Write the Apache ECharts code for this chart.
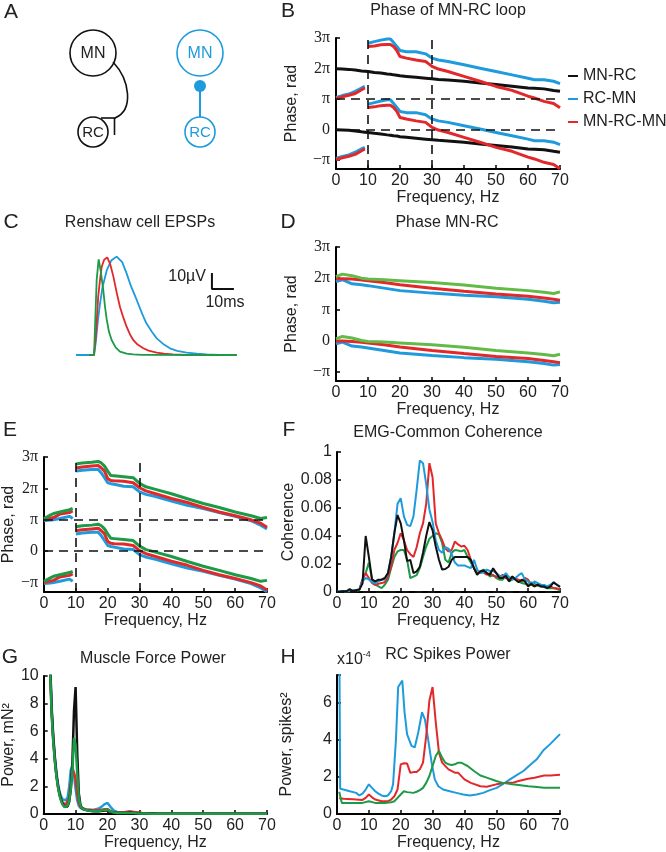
<!DOCTYPE html>
<html>
<head>
<meta charset="utf-8">
<script src="https://cdn.jsdelivr.net/npm/echarts@6/dist/echarts.min.js"></script>
<style>html,body{margin:0;padding:0;background:#fff}#c{width:666px;height:852px}</style>
</head>
<body>
<div id="c"></div>
<script>
// ---------- Panel B: Phase of MN-RC loop (units of pi) ----------
const fB = [0,2,4,6,8,9,9.5,10,12,14,16,17,18,19,20,22,25,28,29,30,32,35,40,45,50,55,60,62,65,68,70];
const phB_MNRC = [1.99,1.98,1.97,1.95,1.92,1.91,1.905,1.90,1.87,1.85,1.82,1.81,1.79,1.78,1.76,1.74,1.71,1.68,1.67,1.66,1.64,1.62,1.58,1.52,1.47,1.42,1.36,1.35,1.33,1.28,1.25];
const phB_RCMN = [1.05,1.11,1.16,1.25,1.36,1.41,null,2.83,2.88,2.93,2.97,2.97,2.85,2.72,2.59,2.55,2.55,2.48,2.41,2.34,2.28,2.23,2.12,2.01,1.90,1.79,1.68,1.63,1.63,1.58,1.50];
const phB_MNRCMN = [1.01,1.07,1.12,1.18,1.30,1.36,null,2.72,2.74,2.78,2.79,2.79,2.72,2.59,2.39,2.34,2.28,2.23,2.15,2.07,1.98,1.90,1.74,1.58,1.41,1.28,1.09,1.03,0.92,0.85,0.71];
const legendB = ['MN-RC','RC-MN','MN-RC-MN'];

// ---------- Panel C: Renshaw cell EPSPs [ms, uV] ----------
const epspBlue = [[0,0],[8.2,0],[9,8],[10,22],[10.9,32],[12,42],[14,53],[16,59],[18.5,61.5],[21,58],[23,51],[25,43],[27.6,34.4],[30,26],[32,19.8],[34.5,14.5],[36.7,10.4],[40,6.5],[42.7,4.2],[46,2.6],[50.3,1.5],[55,0.8],[59.4,0.4],[65,0.1],[73,0]];
const epspRed = [[6,0],[8.2,0],[9,12],[10.1,36.5],[11,48],[11.7,55.2],[12.8,59.5],[14.2,61],[15.5,57],[17,49],[18.5,39],[20,30],[21.5,23.5],[23,17.7],[24.5,13],[26,9.4],[28,6.5],[30.6,4.2],[33,2.7],[36.7,1.5],[40,0.8],[44,0.4],[50,0.1],[73,0]];
const epspGreen = [[6,0],[8.2,0],[8.6,15.6],[9.4,46.9],[10.3,59.8],[11.3,52],[12.4,40.6],[13.2,30],[14,21.9],[15,14.5],[16.2,9.4],[18,4.8],[20,2.1],[23,0.8],[26,0.4],[30,0.1],[73,0]];
const scaleBarC = [[61.8,51.25],[61.8,41.25],[71.8,41.25]]; // 10 uV / 10 ms

// ---------- Panel D: Phase MN-RC ----------
const fD = [0,2,5,8,10,15,20,30,40,50,60,65,68,70];
const phD_green = [2.05,2.13,2.08,2.00,1.97,1.95,1.92,1.86,1.78,1.68,1.60,1.55,1.51,1.56];
const phD_red = [1.98,1.98,1.97,1.94,1.92,1.86,1.79,1.68,1.58,1.49,1.42,1.36,1.32,1.29];
const phD_blue = [1.89,1.95,1.82,1.79,1.76,1.68,1.60,1.52,1.45,1.40,1.32,1.26,1.21,1.23];

// ---------- Panel E ----------
const fE = [0,2,3,5,8,9,9.5,10,12,15,17,18,19,20,21,22,25,28,30,32,35,40,45,50,55,60,65,68,70];
const phE_green = [1.04,1.15,1.20,1.25,1.32,1.36,null,2.78,2.81,2.83,2.86,2.81,2.71,2.55,2.41,2.40,2.37,2.34,2.16,2.05,1.97,1.83,1.67,1.52,1.39,1.25,1.13,1.04,1.07];
const phE_red = [1.00,1.05,1.07,1.18,1.23,1.28,null,2.65,2.68,2.71,2.73,2.65,2.55,2.31,2.25,2.24,2.23,2.18,2.02,1.92,1.83,1.68,1.55,1.39,1.25,1.13,1.00,0.89,0.76];
const phE_blue = [0.97,0.99,1.00,1.04,1.11,1.04,null,2.55,2.58,2.60,2.60,2.49,2.34,2.18,2.15,2.13,2.07,2.05,1.89,1.81,1.74,1.60,1.46,1.36,1.23,1.11,0.97,0.83,0.71];

// ---------- Panel F: EMG-Common Coherence ----------
const fF = [0,1,2,3,4,5,6,7,8,9,10,11,12,13,14,15,16,17,18,19,20,21,22,23,24,25,26,27,28,29,30,31,32,33,34,35,36,37,38,39,40,41,42,43,44,45,46,47,48,49,50,51,52,53,54,55,56,57,58,59,60,61,62,63,64,65,66,67,68,69,70];
const cohBlue = [0.0005,0.0005,0.0005,0.0008,0.001,0.0012,0.0015,0.0017,0.0076,0.010,0.009,0.007,0.0064,0.0076,0.0088,0.009,0.0135,0.025,0.042,0.063,0.067,0.054,0.048,0.047,0.054,0.073,0.094,0.092,0.077,0.059,0.050,0.037,0.030,0.028,0.032,0.031,0.027,0.021,0.019,0.019,0.019,0.018,0.017,0.023,0.016,0.0135,0.014,0.016,0.015,0.015,0.0135,0.0116,0.011,0.0135,0.0107,0.0088,0.010,0.012,0.0135,0.0088,0.0076,0.0052,0.0076,0.0064,0.0052,0.005,0.004,0.0052,0.0069,0.0052,0.004];
const cohRed = [0.0002,0.0003,0.0005,0.0008,0.001,0.0012,0.0015,0.0017,0.0088,0.0135,0.010,0.0064,0.005,0.0059,0.0064,0.0069,0.0111,0.018,0.030,0.035,0.042,0.037,0.030,0.027,0.025,0.032,0.042,0.049,0.063,0.092,0.082,0.049,0.042,0.037,0.031,0.029,0.030,0.036,0.034,0.0325,0.033,0.030,0.023,0.017,0.013,0.0147,0.014,0.0123,0.0135,0.0116,0.0111,0.0107,0.0123,0.010,0.0088,0.0111,0.0093,0.0088,0.0076,0.010,0.0088,0.0052,0.004,0.0052,0.005,0.004,0.0036,0.004,0.0028,0.0026,0.0021];
const cohGreen = [0.0002,0.0002,0.0003,0.0004,0.0005,0.0005,0.0008,0.0012,0.0088,0.0135,0.021,0.0088,0.0052,0.004,0.0028,0.0052,0.0088,0.0171,0.025,0.029,0.030,0.030,0.023,0.010,0.011,0.012,0.017,0.025,0.0325,0.038,0.040,0.042,0.041,0.035,0.023,0.021,0.028,0.030,0.0296,0.029,0.030,0.025,0.021,0.017,0.0135,0.0147,0.016,0.014,0.011,0.0123,0.010,0.0088,0.0088,0.0116,0.0076,0.0088,0.010,0.0076,0.0064,0.0059,0.0052,0.0069,0.0059,0.0045,0.004,0.0036,0.0026,0.0028,0.0026,0.0021,0.0012];
const cohBlack = [0.0002,0.0003,0.0005,0.0005,0.0021,0.0005,0.0012,0.0017,0.006,0.040,0.025,0.009,0.0076,0.0088,0.0088,0.010,0.0135,0.025,0.042,0.055,0.049,0.037,0.022,0.023,0.0135,0.0147,0.018,0.028,0.040,0.050,0.044,0.0325,0.023,0.016,0.0164,0.018,0.023,0.025,0.025,0.025,0.025,0.025,0.023,0.017,0.0123,0.0147,0.0154,0.0135,0.0123,0.017,0.0135,0.010,0.010,0.0116,0.0076,0.0111,0.0088,0.0069,0.0088,0.0076,0.004,0.0059,0.004,0.0052,0.004,0.004,0.0028,0.004,0.0069,0.0052,0.0036];
const cohSig = 0.0008;

// ---------- Panel G: Muscle Force Power (mN^2) ----------
const fG = [1,1.5,2,2.5,3,3.5,4,4.5,5,5.5,6,6.5,7,7.5,8,8.5,9,9.5,10,10.5,11,11.5,12,13,14,15,16,17,18,19,20,21,22,23,24,25,26,27,28,29,30,31,32,34,36,40,45,50,55,60,65,70];
const powGBlack = [30,18,11,7.5,5.5,4,2.8,2,1.4,1.0,0.7,0.55,0.5,0.55,0.9,1.8,3.8,7.5,9.2,4.5,1.5,0.7,0.4,0.3,0.25,0.22,0.2,0.2,0.22,0.25,0.25,0.15,0.1,0.08,0.07,0.07,0.08,0.1,0.08,0.06,0.05,0.04,0.03,0.03,0.02,0.02,0.02,0.01,0.01,0.01,0.01,0.01];
const powGGreen = [28,17,10.5,7.2,5.2,3.8,2.7,1.9,1.3,0.9,0.65,0.5,0.5,0.6,1.0,1.8,3.2,5.5,5.0,3.0,1.2,0.6,0.4,0.3,0.25,0.22,0.2,0.2,0.25,0.3,0.3,0.18,0.1,0.08,0.07,0.07,0.08,0.08,0.07,0.05,0.04,0.03,0.03,0.02,0.02,0.02,0.01,0.01,0.01,0.01,0.01,0.01];
const powGRed = [28,17,10.5,7.3,5.3,3.9,2.8,2.0,1.4,1.0,0.8,0.7,0.7,0.8,1.2,2.2,3.2,3.0,2.5,1.5,0.8,0.5,0.4,0.35,0.3,0.28,0.27,0.28,0.3,0.35,0.35,0.2,0.12,0.1,0.1,0.11,0.15,0.18,0.15,0.12,0.1,0.05,0.04,0.03,0.02,0.02,0.01,0.01,0.01,0.01,0.01,0.01];
const powGBlue = [30,18,11,7.8,5.7,4.2,3.0,2.2,1.6,1.25,1.05,1.0,1.0,1.2,2.0,3.2,3.5,2.8,1.8,1.0,0.6,0.45,0.35,0.3,0.3,0.3,0.32,0.38,0.5,0.7,0.8,0.5,0.25,0.15,0.12,0.12,0.15,0.17,0.15,0.1,0.08,0.05,0.04,0.03,0.02,0.02,0.02,0.01,0.01,0.01,0.01,0.01];

// ---------- Panel H: RC Spikes Power (x1e-4 spikes^2) ----------
const fHBlue = [0.7,1,2,4,6,7,8,9,10,11,12,13,14,15,16,17,17.6,18.5,19.2,20.5,21.2,22,23.4,24.4,25.5,26.7,27.6,28.6,29.7,30.7,31.8,33.3,35.4,37.5,39.6,41.7,43.8,45.9,48,50.1,52.2,54.3,56.4,58.5,60.6,62.7,64.8,66.9,70];
const powHBlue = [10,1.36,1.32,1.23,1.14,1.0,1.1,1.32,1.6,1.41,1.23,1.1,1.0,0.96,1.0,1.23,1.6,4.0,6.85,7.2,5.5,4.3,3.68,3.59,4.4,5.49,5.1,4.04,2.77,1.87,1.5,1.32,1.23,1.14,1.05,1.0,1.05,1.14,1.29,1.41,1.63,1.87,2.1,2.32,2.64,2.95,3.44,3.77,4.31];
const fHRed = [0.7,2,5,8,9,10,11,12,14,16,17,18,19,20,21,22,23,24,25,26,27,28,29,30,31,32,33,35,37,38,40,42,45,47,50,53,55,57,60,62,65,67,70];
const powHRed = [0.85,0.82,0.8,0.76,0.87,1.05,0.9,0.78,0.69,0.69,0.78,0.96,1.32,2.68,2.74,2.72,2.23,2.26,2.26,2.41,2.77,4.22,6.12,6.85,4.95,3.32,2.77,2.41,2.23,2.23,1.87,1.68,1.5,1.47,1.6,1.68,1.68,1.78,1.9,1.96,2.08,2.08,2.12];
const fHGreen = [0.7,1.5,5,8,10,12,15,17,18,19,20,21,22,24,25,26,27,28,29,30,31,32,33,34,35,36,37,38,39,40,41,43,45,47,50,52,55,57,60,62,65,67,70];
const powHGreen = [1.2,0.6,0.6,0.6,0.69,0.6,0.6,0.63,0.69,0.87,1.05,1.23,1.18,1.14,1.2,1.29,1.41,1.68,2.05,2.59,3.13,3.41,3.04,2.77,2.68,2.64,2.68,2.77,2.77,2.68,2.59,2.32,2.08,1.96,1.78,1.68,1.6,1.56,1.5,1.47,1.41,1.41,1.41];

// ---------- tick labels ----------
const piTicks = [-1,0,1,2,3];
const piLabels = ['\u2212\u03c0','0','\u03c0','2\u03c0','3\u03c0'];

// ---------- styling ----------
const BLUE = '#1e9bdc', RED = '#e2282a', GREEN = '#1c9a45', LGREEN = '#62bb47', BLACK = '#111111';
const SANS = 'Liberation Sans, Arial, sans-serif';
const SERIF = 'Liberation Serif, Times New Roman, serif';

function zip(xs, ys, shift) {
  return xs.map((x, i) => [x, ys[i] == null ? null : ys[i] + (shift || 0)]);
}
function xAxisCfg(gi) {
  return {
    gridIndex: gi, type: 'value', min: 0, max: 70, interval: 10,
    axisLine: {onZero: false, lineStyle: {color: '#000', width: 2}},
    axisTick: {inside: true, length: 4, lineStyle: {color: '#000', width: 1.5}},
    axisLabel: {color: '#222', fontSize: 16, fontFamily: SANS, margin: 4},
    splitLine: {show: false},
    name: 'Frequency, Hz', nameLocation: 'middle', nameGap: 21,
    nameTextStyle: {color: '#222', fontSize: 16, fontFamily: SANS}
  };
}
function phaseY(gi, nameGap) {
  return {
    gridIndex: gi, type: 'value', min: -1.3, max: 3,
    axisLine: {show: true, onZero: false, lineStyle: {color: '#000', width: 2}},
    axisTick: {show: true, inside: true, length: 4, customValues: piTicks, lineStyle: {color: '#000', width: 1.5}},
    axisLabel: {show: true, customValues: piTicks, color: '#222', fontSize: 16, fontFamily: SERIF, margin: 6,
      formatter: v => piLabels[piTicks.indexOf(Math.round(v))]},
    splitLine: {show: false},
    name: 'Phase, rad', nameLocation: 'middle', nameGap: nameGap, nameRotate: 90,
    nameTextStyle: {color: '#222', fontSize: 16, fontFamily: SANS}
  };
}
function valY(gi, min, max, interval, nameText, nameGap, fmt) {
  return {
    gridIndex: gi, type: 'value', min: min, max: max, interval: interval,
    axisLine: {show: true, onZero: false, lineStyle: {color: '#000', width: 2}},
    axisTick: {show: true, inside: true, length: 4, lineStyle: {color: '#000', width: 1.5}},
    axisLabel: {show: true, color: '#222', fontSize: 16, fontFamily: SANS, margin: 5, showMaxLabel: true, formatter: fmt},
    splitLine: {show: false},
    name: nameText, nameLocation: 'middle', nameGap: nameGap, nameRotate: 90,
    nameTextStyle: {color: '#222', fontSize: 16, fontFamily: SANS}
  };
}
function line(name, gi, data, color, width, z) {
  return {name: name, type: 'line', xAxisIndex: gi, yAxisIndex: gi, data: data,
    showSymbol: false, symbol: 'none', connectNulls: false, smooth: false, animation: false,
    lineStyle: {color: color, width: width}, itemStyle: {color: color}, z: z || 2, clip: true};
}
function dashLines(gi, xs, ys) {
  const d = [];
  xs.forEach(x => d.push({xAxis: x}));
  ys.forEach(y => d.push({yAxis: y}));
  return {type: 'line', xAxisIndex: gi, yAxisIndex: gi, data: [], silent: true,
    markLine: {silent: true, symbol: 'none', animation: false, label: {show: false},
      lineStyle: {color: '#111', type: [9, 6], width: 1.6}, data: d}};
}

const series = [];
// B (grid 0)
series.push(dashLines(0, [10, 30], [1, 0]));
series.push(line('MN-RC', 0, zip(fB, phB_MNRC), BLACK, 3));
series.push(line('MN-RC', 0, zip(fB, phB_MNRC, -2), BLACK, 3));
series.push(line('RC-MN', 0, zip(fB, phB_RCMN), BLUE, 3));
series.push(line('RC-MN', 0, zip(fB, phB_RCMN, -2), BLUE, 3));
series.push(line('MN-RC-MN', 0, zip(fB, phB_MNRCMN), RED, 3));
series.push(line('MN-RC-MN', 0, zip(fB, phB_MNRCMN, -2), RED, 3));
// C (grid 1)
series.push(line('epspB', 1, epspBlue, BLUE, 1.8));
series.push(line('epspR', 1, epspRed, RED, 1.8));
series.push(line('epspG', 1, epspGreen, GREEN, 1.8));
series.push(line('scale', 1, scaleBarC, '#111', 2));
// D (grid 2)
[[phD_blue, BLUE], [phD_red, RED], [phD_green, LGREEN]].forEach(p => {
  series.push(line('D', 2, zip(fD, p[0]), p[1], 3));
  series.push(line('D', 2, zip(fD, p[0], -2), p[1], 3));
});
// E (grid 3)
series.push(dashLines(3, [10, 30], [1, 0]));
[[phE_blue, BLUE], [phE_red, RED], [phE_green, GREEN]].forEach(p => {
  series.push(line('E', 3, zip(fE, p[0]), p[1], 3));
  series.push(line('E', 3, zip(fE, p[0], -2), p[1], 3));
});
// F (grid 4)
series.push({type: 'line', xAxisIndex: 4, yAxisIndex: 4, data: [], silent: true,
  markLine: {silent: true, symbol: 'none', animation: false, label: {show: false},
    lineStyle: {color: '#111', type: [7, 6], width: 2}, data: [{yAxis: cohSig}]}});
series.push(line('F', 4, zip(fF, cohGreen), GREEN, 2));
series.push(line('F', 4, zip(fF, cohRed), RED, 2));
series.push(line('F', 4, zip(fF, cohBlue), BLUE, 2));
series.push(line('F', 4, zip(fF, cohBlack), BLACK, 2));
// G (grid 5)
series.push(line('G', 5, zip(fG, powGBlue), BLUE, 2.5));
series.push(line('G', 5, zip(fG, powGRed), RED, 2.5));
series.push(line('G', 5, zip(fG, powGBlack), BLACK, 2.5));
series.push(line('G', 5, zip(fG, powGGreen), GREEN, 2.5));
// H (grid 6)
series.push(line('H', 6, zip(fHBlue, powHBlue), BLUE, 2));
series.push(line('H', 6, zip(fHRed, powHRed), RED, 2));
series.push(line('H', 6, zip(fHGreen, powHGreen), GREEN, 2));

function txt(x, y, s, size, color, family, align) {
  return {type: 'text', x: x, y: y, silent: true,
    style: {text: s, fontSize: size, fontFamily: family || SANS, fill: color || '#222',
      align: align || 'center', verticalAlign: 'middle'}};
}
const graphics = [
  // panel letters
  txt(11, 12, 'A', 21), txt(288, 11, 'B', 21), txt(11, 222, 'C', 21), txt(288, 222, 'D', 21),
  txt(10, 430, 'E', 21), txt(289, 430, 'F', 21), txt(10, 657, 'G', 21), txt(288, 657, 'H', 21),
  // titles
  txt(448, 11, 'Phase of MN-RC loop', 16), txt(140, 223, 'Renshaw cell EPSPs', 16),
  txt(447, 223, 'Phase MN-RC', 16), txt(448, 433, 'EMG-Common Coherence', 16),
  txt(153, 659, 'Muscle Force Power', 16), txt(448, 655, 'RC Spikes Power', 16),
  // scale bar labels
  txt(206, 277, '10\u00b5V', 16, '#222', SANS, 'right'), txt(225, 303, '10ms', 16),
  // x10^-4
  {type: 'text', x: 337, y: 660, silent: true,
    style: {text: 'x10{s|-4}', fontSize: 16, fontFamily: SANS, fill: '#222', align: 'left', verticalAlign: 'middle',
      rich: {s: {fontSize: 9, fontFamily: SANS, fill: '#222', verticalAlign: 'top', padding: [0, 0, 10, 0]}}}},
  // panel A diagram
  {type: 'circle', shape: {cx: 93, cy: 53, r: 23}, style: {fill: 'none', stroke: '#111', lineWidth: 1.6}},
  {type: 'circle', shape: {cx: 93, cy: 132, r: 15}, style: {fill: 'none', stroke: '#111', lineWidth: 1.6}},
  {type: 'bezierCurve', shape: {x1: 113, y1: 62, cpx1: 130, cpy1: 80, cpx2: 134, cpy2: 110, x2: 115, y2: 118},
    style: {fill: 'none', stroke: '#111', lineWidth: 1.6}},
  {type: 'line', shape: {x1: 101, y1: 118, x2: 116, y2: 118}, style: {stroke: '#111', lineWidth: 1.6}},
  {type: 'line', shape: {x1: 114.5, y1: 118, x2: 114.5, y2: 135}, style: {stroke: '#111', lineWidth: 1.6}},
  txt(93, 54, 'MN', 16, '#222'), txt(93, 133, 'RC', 15, '#222'),
  {type: 'circle', shape: {cx: 200, cy: 53, r: 23}, style: {fill: 'none', stroke: BLUE, lineWidth: 1.6}},
  {type: 'circle', shape: {cx: 200, cy: 132, r: 15}, style: {fill: 'none', stroke: BLUE, lineWidth: 1.6}},
  {type: 'line', shape: {x1: 200, y1: 86, x2: 200, y2: 117}, style: {stroke: BLUE, lineWidth: 2}},
  {type: 'circle', shape: {cx: 200, cy: 86, r: 6}, style: {fill: BLUE, stroke: 'none'}},
  txt(200, 54, 'MN', 16, BLUE), txt(200, 133, 'RC', 15, BLUE)
];

const option = {
  animation: false,
  backgroundColor: '#fff',
  grid: [
    {left: 336, top: 38, width: 224, height: 131},
    {left: 76, top: 257, width: 161, height: 98},
    {left: 336, top: 247, width: 224, height: 134},
    {left: 43, top: 457, width: 224, height: 135},
    {left: 337, top: 452, width: 223, height: 140},
    {left: 43, top: 676, width: 224, height: 139},
    {left: 337, top: 675, width: 223, height: 139}
  ],
  xAxis: [
    xAxisCfg(0), {gridIndex: 1, type: 'value', min: 0, max: 73.2, show: false},
    xAxisCfg(2), xAxisCfg(3), xAxisCfg(4), xAxisCfg(5), xAxisCfg(6)
  ],
  yAxis: [
    phaseY(0, 36), {gridIndex: 1, type: 'value', min: 0, max: 61.25, show: false},
    phaseY(2, 36), phaseY(3, 23),
    valY(4, 0, 0.1, 0.02, 'Coherence', 40, v => v === 0 ? '0' : (v > 0.099 ? '1' : v.toFixed(2))),
    valY(5, 0, 10, 2, 'Power, mN\u00b2', 23, v => String(v)),
    valY(6, 0, 7.5, 2, 'Power, spikes\u00b2', 42, v => v > 7 ? '' : String(v))
  ],
  legend: {
    left: 563, top: 63, orient: 'vertical', itemWidth: 10, itemHeight: 2, itemGap: 7, icon: 'rect',
    data: legendB, textStyle: {fontSize: 16, color: '#222', fontFamily: SANS}, selectedMode: false
  },
  series: series,
  graphic: graphics
};
const chart = echarts.init(document.getElementById('c'), null, {renderer: 'canvas'});
chart.setOption(option);
</script>
</body>
</html>
